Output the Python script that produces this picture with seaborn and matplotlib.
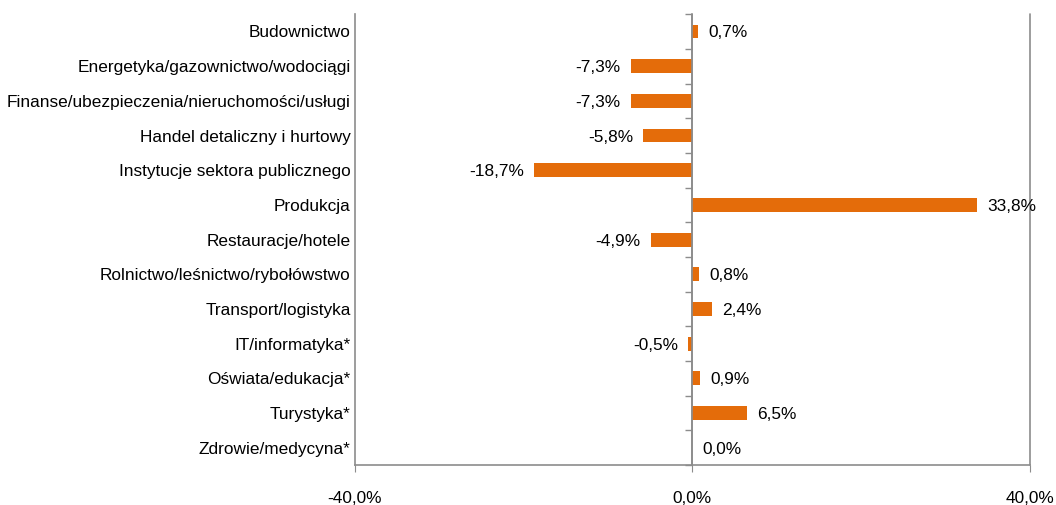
import matplotlib
matplotlib.use("Agg")
import matplotlib.pyplot as plt
import seaborn as sns
import numpy as np

categories = [
    "Budownictwo",
    "Energetyka/gazownictwo/wodociągi",
    "Finanse/ubezpieczenia/nieruchomości/usługi",
    "Handel detaliczny i hurtowy",
    "Instytucje sektora publicznego",
    "Produkcja",
    "Restauracje/hotele",
    "Rolnictwo/leśnictwo/rybołówstwo",
    "Transport/logistyka",
    "IT/informatyka*",
    "Oświata/edukacja*",
    "Turystyka*",
    "Zdrowie/medycyna*",
]
values = [0.7, -7.3, -7.3, -5.8, -18.7, 33.8, -4.9, 0.8, 2.4, -0.5, 0.9, 6.5, 0.0]
x_ticks = [-40, 0, 40]

sns.set_style("white")
plt.rcParams["font.family"] = ["Liberation Sans", "DejaVu Sans"]
plt.rcParams["text.color"] = "black"
plt.rcParams["xtick.labelcolor"] = "black"
plt.rcParams["ytick.labelcolor"] = "black"
grey = "#8c8c8c"
fs = 12.4

fig = plt.figure(figsize=(10.56, 5.05), dpi=100)
ax = fig.add_axes([0.336, 0.079, 0.639, 0.893])

sns.barplot(x=values, y=categories, orient="h", color="#E46C0A",
            saturation=1, width=0.4, linewidth=0, ax=ax)

ax.set_xlim(-40, 40)
ax.set_ylim(len(categories) - 0.5, -0.5)
ax.set_xlabel("")
ax.set_ylabel("")
ax.set_xticks(x_ticks)
ax.set_xticklabels([f"{t:.1f}%".replace(".", ",") for t in x_ticks], fontsize=fs)
ax.tick_params(axis="x", bottom=True, length=5, color=grey, pad=14, labelcolor="black")
ax.tick_params(axis="y", left=False, length=0, labelsize=fs, pad=3, labelcolor="black")

for s in ["top", "right"]:
    ax.spines[s].set_visible(False)
for s in ["left", "bottom"]:
    ax.spines[s].set_color(grey)
    ax.spines[s].set_linewidth(1.2)
ax.axvline(40, color=grey, lw=1.2, clip_on=False, zorder=3)
ax.axvline(0, color=grey, lw=1.2, zorder=5)

# category boundary ticks on the zero axis
zero = ax.secondary_yaxis(0.5)
zero.set_yticks(np.arange(-0.5, len(categories), 1.0))
zero.set_yticklabels([])
zero.yaxis.set_ticks_position("left")
zero.tick_params(axis="y", left=True, right=False, length=5, width=1,
                 color=grey, direction="out")
for s in zero.spines.values():
    s.set_color(grey)
    s.set_linewidth(1.2)

for i, v in enumerate(values):
    lab = f"{v:.1f}%".replace(".", ",")
    if v < 0:
        ax.text(v - 1.2, i, lab, ha="right", va="center_baseline", fontsize=fs, color="black")
    else:
        ax.text(v + 1.2, i, lab, ha="left", va="center_baseline", fontsize=fs, color="black")

plt.savefig("out.png", dpi=100)
